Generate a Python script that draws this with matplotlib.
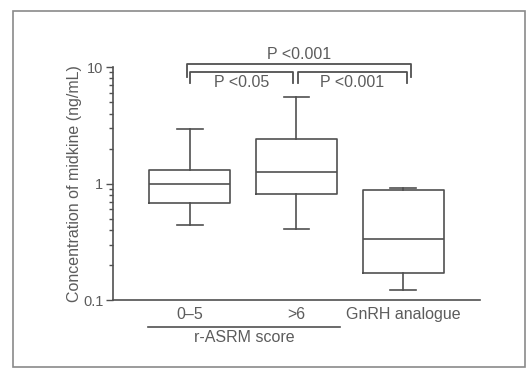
import matplotlib
matplotlib.use("Agg")
import matplotlib.pyplot as plt
from matplotlib.patches import Rectangle
from matplotlib.ticker import LogLocator, NullFormatter, FixedFormatter, FixedLocator

plt.rcParams['font.family'] = ['Liberation Sans', 'DejaVu Sans']

# box statistics (ng/mL)
groups = ["0\u20135", ">6", "GnRH analogue"]
whisker_low = [0.44, 0.41, 0.122]
q1 = [0.68, 0.81, 0.17]
medians = [0.99, 1.26, 0.334]
q3 = [1.31, 2.41, 0.88]
whisker_high = [2.94, 5.56, 0.92]

comparisons = [(0, 1, "P <0.05"), (1, 2, "P <0.001"), (0, 2, "P <0.001")]

ink = "#505050"
txt_ink = "#5c5c5c"
fs = 11.5

fig = plt.figure(figsize=(5.27, 3.71), dpi=100)
ax = fig.add_axes([0.2144, 0.191, 0.6964, 0.628])

stats = []
for i in range(len(groups)):
    stats.append({"whislo": whisker_low[i], "q1": q1[i], "med": medians[i],
                  "q3": q3[i], "whishi": whisker_high[i], "fliers": []})

ax.bxp(stats, positions=range(len(groups)), widths=0.76, showfliers=False,
       boxprops=dict(color=ink, lw=1.2),
       medianprops=dict(color=ink, lw=1.2),
       whiskerprops=dict(color=ink, lw=1.2),
       capprops=dict(color=ink, lw=1.2), capwidths=0.24)

ax.set_yscale("log")
ax.set_ylim(0.1, 10)
ax.set_xlim(-0.72, 2.72)
ax.yaxis.set_major_locator(FixedLocator([0.1, 1, 10]))
ax.yaxis.set_major_formatter(FixedFormatter(["0.1", "1", "10"]))
ax.yaxis.set_minor_locator(LogLocator(base=10, subs=range(2, 10)))
ax.yaxis.set_minor_formatter(NullFormatter())
ax.tick_params(axis="y", which="major", length=5, width=1, color=ink,
               labelcolor=txt_ink, labelsize=10.5, pad=2)
ax.tick_params(axis="y", which="minor", length=3, width=1, color=ink)
ax.set_xticks(range(len(groups)))
ax.set_xticklabels(groups)
ax.tick_params(axis="x", length=0, pad=5, labelcolor=txt_ink, labelsize=fs)

for s in ["top", "right"]:
    ax.spines[s].set_visible(False)
for s in ["left", "bottom"]:
    ax.spines[s].set_color(ink)
    ax.spines[s].set_linewidth(1.2)

ax.set_ylabel("Concentration of midkine (ng/mL)", color=txt_ink, fontsize=fs, labelpad=0.5)

# significance brackets above the axes
tr = ax.get_xaxis_transform()
for a, b, txt in comparisons:
    if b - a == 2:
        x0, x1, y, drop = a - 0.03, b + 0.07, 1.012, 0.055
        ty, va = 1.02, "bottom"
    else:
        x0, x1 = (a, b - 0.03) if a == 0 else (a + 0.01, b + 0.04)
        y, drop = 0.978, 0.045
        ty, va = 0.965, "top"
    ax.plot([x0, x0, x1, x1], [y - drop, y, y, y - drop], color=ink, lw=1.3,
            transform=tr, clip_on=False)
    ax.text((x0 + x1) / 2, ty, txt, transform=tr, ha="center", va=va,
            color=txt_ink, fontsize=fs)

# r-ASRM score grouping line under the first two groups
ax.plot([-0.39, 1.41], [-0.115, -0.115], color=ink, lw=1.2, transform=tr, clip_on=False)
ax.text(0.51, -0.128, "r-ASRM score", transform=tr, ha="center", va="top",
        color=txt_ink, fontsize=fs)

# outer frame of the scanned figure
fig.patches.append(Rectangle((13 / 527, 4 / 371), 512 / 527, 356 / 371,
                             transform=fig.transFigure, fill=False,
                             edgecolor="#8a8a8a", lw=1.2))

fig.savefig("out.png", dpi=100)
